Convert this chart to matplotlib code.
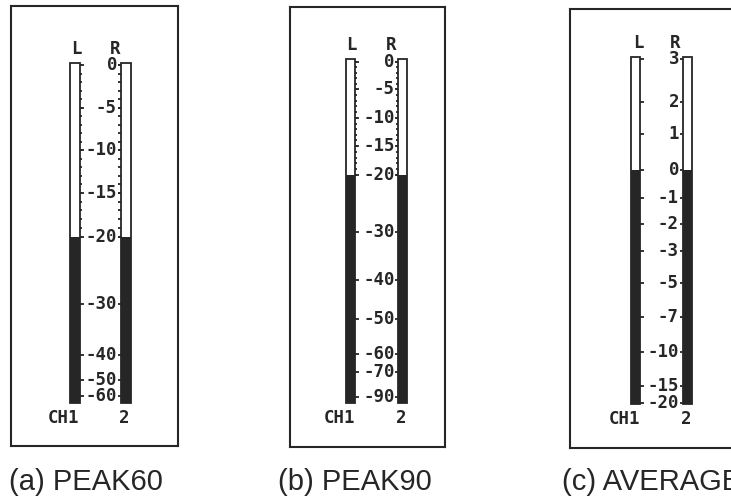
import numpy as np
import matplotlib
matplotlib.use("Agg")
import matplotlib.pyplot as plt

W, H = 731, 499
INK = "#262626"

# ---------------- data ----------------
titles = ["(a) PEAK60", "(b) PEAK90", "(c) AVERAGE"]
channels = ["L", "R"]
channel_ids = ["CH1", "2"]

ticks_a = [0, -5, -10, -15, -20, -30, -40, -50, -60]
ticks_b = [0, -5, -10, -15, -20, -30, -40, -50, -60, -70, -90]
ticks_c = [3, 2, 1, 0, -1, -2, -3, -5, -7, -10, -15, -20]

levels_a = [-20, -20]   # L, R meter readings (dB)
levels_b = [-20, -20]
levels_c = [0, 0]

fine_a = list(range(0, -21, -1))   # 1 dB graduations
fine_b = list(range(0, -21, -1))
fine_c = []

# ---------------- layout (pixels) ----------------
# pixel position of each tick along the meter (scale calibration)
pos_a = [65, 108, 150, 193, 236.5, 304, 355, 380, 396]
pos_b = [61.7, 89, 118, 146, 175, 232, 280, 319, 354, 372, 397]
pos_c = [59, 102, 134, 170, 198, 224, 251, 283, 317, 352, 386, 403]

panels = [
    dict(ticks=ticks_a, pos=pos_a, levels=levels_a, fine=fine_a, title=titles[0],
         frame=(11, 178, 5.5, 446), L=(69.5, 79.5), R=(120.5, 131), top=63, bot=403,
         Lx=76, Rx=115, cap=9),
    dict(ticks=ticks_b, pos=pos_b, levels=levels_b, fine=fine_b, title=titles[1],
         frame=(290, 445, 6.5, 447), L=(345.5, 355), R=(398, 407), top=59, bot=403,
         Lx=351.5, Rx=391.5, cap=278),
    dict(ticks=ticks_c, pos=pos_c, levels=levels_c, fine=fine_c, title=titles[2],
         frame=(570, 760, 8.5, 448), L=(631, 640), R=(682.5, 692), top=57, bot=403.5,
         Lx=638, Rx=675, cap=562),
]

MONO = dict(family="DejaVu Sans Mono", weight="bold", size=12.5, color=INK)


def make_scale(vals, pos):
    v = np.array(vals, float)[::-1]
    p = -np.array(pos, float)[::-1]

    def lin(x, xs, ys):
        x = np.asarray(x, float)
        out = np.interp(x, xs, ys)
        s0 = (ys[1] - ys[0]) / (xs[1] - xs[0])
        s1 = (ys[-1] - ys[-2]) / (xs[-1] - xs[-2])
        out = np.where(x < xs[0], ys[0] + (x - xs[0]) * s0, out)
        out = np.where(x > xs[-1], ys[-1] + (x - xs[-1]) * s1, out)
        return out

    return (lambda d: lin(d, v, p)), (lambda y: lin(y, p, v))


fig = plt.figure(figsize=(W / 100, H / 100), dpi=100)


def fx(x):
    return x / W


def fy(y):
    return 1 - y / H


for pnl in panels:
    x0, x1, y0, y1 = pnl["frame"]
    fr = fig.add_axes([fx(x0), fy(y1), (x1 - x0) / W, (y1 - y0) / H])
    fr.set_xticks([]); fr.set_yticks([])
    fr.patch.set_alpha(0)
    for s in fr.spines.values():
        s.set_linewidth(1.5)
        s.set_color(INK)

    l0, l1 = pnl["L"]
    r0, r1 = pnl["R"]
    top, bot = pnl["top"], pnl["bot"]
    ax = fig.add_axes([fx(l0), fy(bot), (r1 - l0) / W, (bot - top) / H])
    fwd, inv = make_scale(pnl["ticks"], pnl["pos"])
    ax.set_yscale("function", functions=(fwd, inv))
    ymin = float(inv(-bot)); ymax = float(inv(-top))
    ax.set_ylim(ymin, ymax)
    ax.set_xlim(0, r1 - l0)
    ax.axis("off")

    xs = [(l0 + l1) / 2 - l0, (r0 + r1) / 2 - l0]
    ws = [l1 - l0, r1 - r0]
    lv = pnl["levels"]
    ax.bar(xs, [v - ymin for v in lv], bottom=ymin, width=ws, color=INK,
           linewidth=0, clip_on=False)
    ax.bar(xs, [ymax - ymin] * 2, bottom=ymin, width=ws, fill=False,
           edgecolor=INK, linewidth=1.3, clip_on=False)

    Lr = l1 - l0
    Rl = r0 - l0
    if pnl["fine"]:
        ax.hlines(pnl["fine"], Lr, Lr + 2.2, color=INK, lw=1.3, clip_on=False)
        ax.hlines(pnl["fine"], Rl - 2.2, Rl, color=INK, lw=1.3, clip_on=False)
    ax.hlines(pnl["ticks"], Lr, Lr + 4, color=INK, lw=1.3, clip_on=False)
    ax.hlines(pnl["ticks"], Rl - 3, Rl, color=INK, lw=1.3, clip_on=False)
    for t in pnl["ticks"]:
        ax.text(Rl - 3.5, t, f"{t:d}", ha="right", va="center", clip_on=False, **MONO)

    fig.text(fx(pnl["Lx"]), fy(top - 14), channels[0], ha="center", va="center", **MONO)
    fig.text(fx(pnl["Rx"]), fy(top - 14), channels[1], ha="center", va="center", **MONO)
    fig.text(fx(l1), fy(bot + 15), channel_ids[0], ha="right", va="center", **MONO)
    fig.text(fx((r0 + r1) / 2 - 1.5), fy(bot + 15), channel_ids[1], ha="center",
             va="center", **MONO)

    fig.text(fx(pnl["cap"]), fy(490), pnl["title"], ha="left", va="baseline",
             family="Liberation Sans", size=21, color=INK)

fig.savefig("out.png", dpi=100)
